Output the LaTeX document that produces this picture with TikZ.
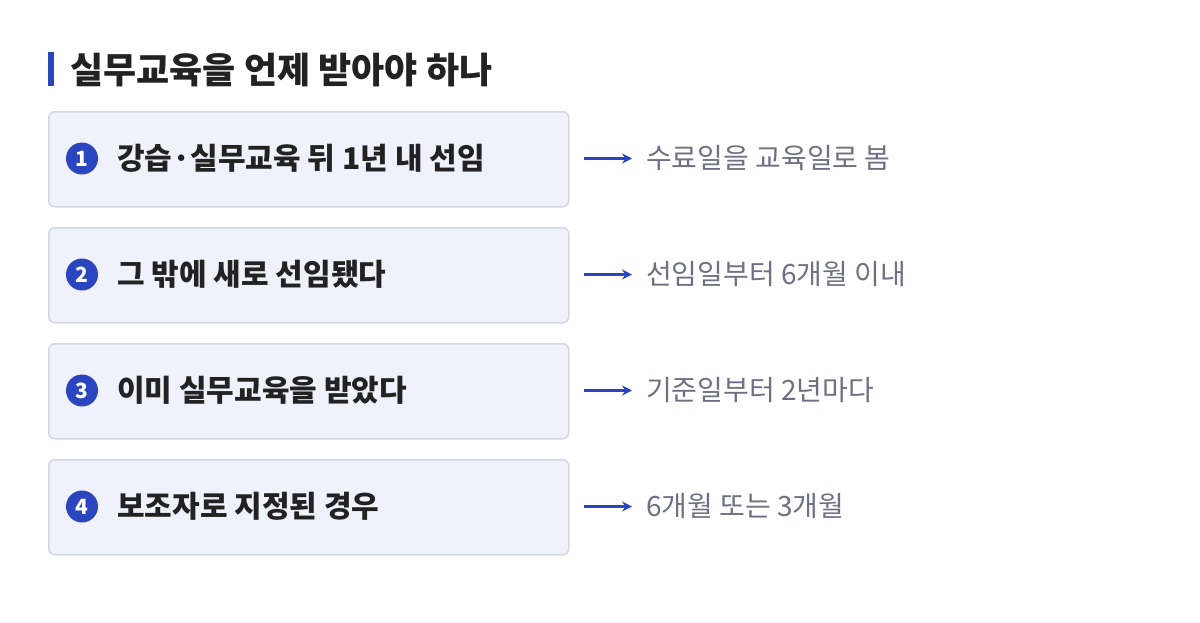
\documentclass[tikz,border=0pt]{standalone}
\usepackage{fontspec}
\setmainfont{Noto Sans CJK KR}
\usetikzlibrary{positioning}
\definecolor{accent}{HTML}{2B45C0}
\definecolor{boxfill}{HTML}{EFF2FB}
\definecolor{boxline}{HTML}{D3D7E4}
\definecolor{ink}{HTML}{222222}
\definecolor{note}{HTML}{6E7182}
\tikzset{
  casebox/.style={draw=boxline, line width=1.5pt, fill=boxfill, rounded corners=6pt,
    minimum width=520pt, minimum height=95pt, anchor=north west},
  num/.style={circle, fill=accent, text=white, inner sep=0pt, minimum size=32pt,
    font=\fontsize{21}{21}\selectfont\bfseries},
  lbl/.style={anchor=west, text=ink, inner sep=0pt, font=\fontsize{30}{30}\selectfont\bfseries},
  hint/.style={anchor=west, text=note, inner sep=0pt, font=\fontsize{28}{28}\selectfont},
  go/.style={-{Stealth[length=10pt,width=10pt]}, draw=accent, line width=2.5pt}
}
\usetikzlibrary{arrows.meta}
\begin{document}
\begin{tikzpicture}[x=1pt, y=-1pt]
    \useasboundingbox[fill=white] (0,0) rectangle (1200,622);
    \fill[accent] (48,52) rectangle (54,86);
    \node[anchor=west, inner sep=0pt, text=ink, font=\fontsize{36}{36}\selectfont\bfseries] (title) at (70,70) {실무교육을 언제 받아야 하나};

    \foreach \i/\y/\txt/\res in {1/111/강습·실무교육 뒤 1년 내 선임/수료일을 교육일로 봄,
                                 2/227/그 밖에 새로 선임됐다/선임일부터 6개월 이내,
                                 3/343/이미 실무교육을 받았다/기준일부터 2년마다,
                                 4/459/보조자로 지정된 경우/6개월 또는 3개월} {
        \node[casebox] (box\i) at (48,\y) {};
        \node[num] (n\i) at (82,\y+47.5) {\i};
        \node[lbl] (t\i) at (117,\y+47.5) {\txt};
        \coordinate (a\i) at (584,\y+47.5);
        \node[hint] (r\i) at (646,\y+47.5) {\res};
        \draw[go] (a\i) -- ([xshift=-14pt]r\i.west);
    }
\end{tikzpicture}
\end{document}
